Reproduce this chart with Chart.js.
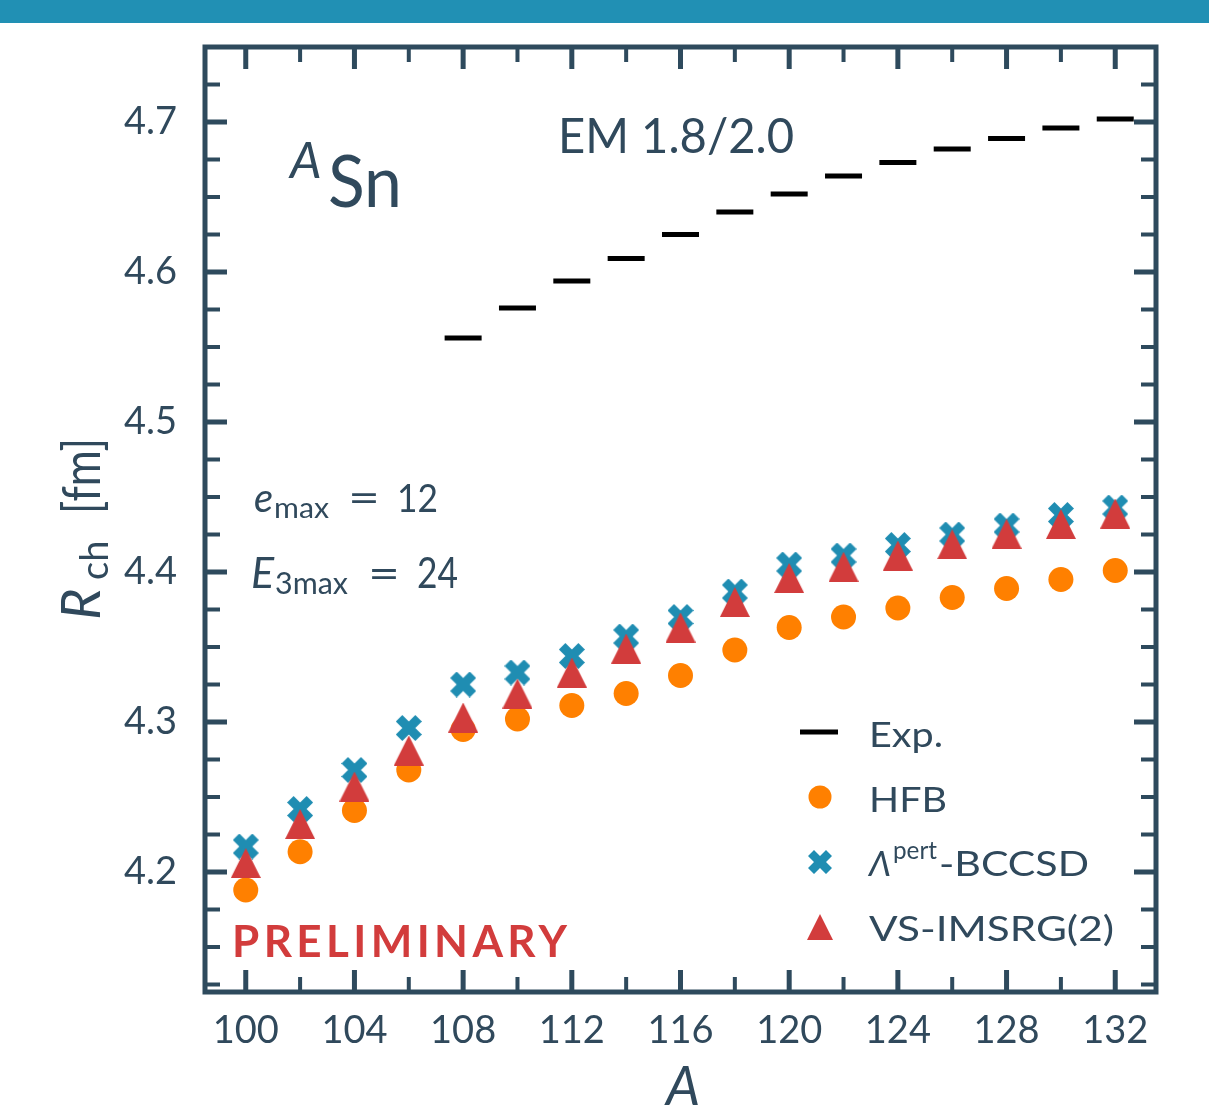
<!DOCTYPE html>
<html>
<head>
<meta charset="utf-8">
<title>Sn charge radii</title>
<script src="https://cdn.jsdelivr.net/npm/chart.js@4.4.0/dist/chart.umd.min.js"></script>
<style>
  html, body { margin: 0; padding: 0; background: #fff; }
  canvas { display: block; }
</style>
</head>
<body>
<canvas id="radiiChart" width="1209" height="1109"></canvas>
<script>
// === DATA ===
const massNumbers = [100, 102, 104, 106, 108, 110, 112, 114, 116, 118, 120, 122, 124, 126, 128, 130, 132];
const expMassNumbers = [108, 110, 112, 114, 116, 118, 120, 122, 124, 126, 128, 130, 132];

const expRadii = [4.556, 4.576, 4.594, 4.609, 4.625, 4.640, 4.652, 4.664, 4.673, 4.682, 4.689, 4.696, 4.702];
const hfbRadii = [4.188, 4.2135, 4.241, 4.268, 4.295, 4.302, 4.311, 4.319, 4.331, 4.348, 4.363, 4.370, 4.376, 4.383, 4.389, 4.395, 4.401];
const bccsdRadii = [4.217, 4.242, 4.268, 4.296, 4.325, 4.333, 4.344, 4.357, 4.370, 4.387, 4.405, 4.411, 4.418, 4.425, 4.431, 4.438, 4.443];
const imsrgRadii = [4.206, 4.232, 4.257, 4.281, 4.303, 4.319, 4.333, 4.349, 4.363, 4.380, 4.396, 4.4035, 4.411, 4.4185, 4.4255, 4.432, 4.439];

const xTickLabels = [100, 104, 108, 112, 116, 120, 124, 128, 132];
const xMinorTicks = [102, 106, 110, 114, 118, 122, 126, 130];
const yTickLabels = [4.2, 4.3, 4.4, 4.5, 4.6, 4.7];
const yMinorTicks = [4.125, 4.15, 4.175, 4.225, 4.25, 4.275, 4.325, 4.35, 4.375, 4.425, 4.45, 4.475,
                     4.525, 4.55, 4.575, 4.625, 4.65, 4.675, 4.725];

// === STYLE ===
const FONT = "Lato, 'Open Sans', sans-serif";
const TEXT = "#30495c";
const AXIS = "#2e4a5d";
const ORANGE = "#ff8000";
const BLUE = "#1f8db2";
const RED = "#d23c3c";

// matplotlib-like markers
function makeTriangle(size, color) {
  const c = document.createElement("canvas");
  c.width = size; c.height = size;
  const g = c.getContext("2d");
  g.fillStyle = color;
  g.beginPath();
  g.moveTo(size / 2, 0);
  g.lineTo(size, size);
  g.lineTo(0, size);
  g.closePath();
  g.fill();
  return c;
}

function makeCross(size, color) {
  const pts = [[0.25, 0], [0.5, 0.25], [0.75, 0], [1, 0.25], [0.75, 0.5], [1, 0.75],
               [0.75, 1], [0.5, 0.75], [0.25, 1], [0, 0.75], [0.25, 0.5], [0, 0.25]];
  const c = document.createElement("canvas");
  c.width = size; c.height = size;
  const g = c.getContext("2d");
  g.fillStyle = color;
  g.beginPath();
  pts.forEach((p, i) => {
    if (i === 0) g.moveTo(p[0] * size, p[1] * size);
    else g.lineTo(p[0] * size, p[1] * size);
  });
  g.closePath();
  g.fill();
  return c;
}

const triMarker = makeTriangle(30, RED);
const crossMarker = makeCross(26, BLUE);
const triLegend = makeTriangle(26, RED);
const crossLegend = makeCross(24, BLUE);

function toPoints(xs, ys) {
  return xs.map((x, i) => ({ x: x, y: ys[i] }));
}

// draws text pieces; optional w stretches a piece horizontally to that width
function drawRuns(ctx, runs) {
  runs.forEach(r => {
    ctx.font = r.font;
    ctx.fillStyle = r.color || TEXT;
    if (r.w) {
      const m = ctx.measureText(r.text).width;
      ctx.save();
      ctx.translate(r.x, r.y);
      ctx.scale(r.w / m, 1);
      ctx.fillText(r.text, 0, 0);
      ctx.restore();
    } else {
      ctx.fillText(r.text, r.x, r.y);
    }
  });
}

// === DECORATIONS: band, frame, inward ticks, labels, legend ===
const decorations = {
  id: "decorations",
  beforeDraw(chart) {
    const ctx = chart.ctx;
    ctx.save();
    ctx.fillStyle = "#2190b4";
    ctx.fillRect(0, 0, chart.width, 23);
    ctx.restore();
  },
  afterDatasetsDraw(chart) {
    const ctx = chart.ctx;
    const a = chart.chartArea;
    const xs = chart.scales.x, ys = chart.scales.y;
    ctx.save();
    ctx.strokeStyle = AXIS;
    ctx.lineCap = "butt";

    const tick = (len, width, list, horizontal) => {
      ctx.lineWidth = width;
      ctx.beginPath();
      list.forEach(v => {
        if (horizontal) {
          const px = xs.getPixelForValue(v);
          ctx.moveTo(px, a.bottom); ctx.lineTo(px, a.bottom - len);
          ctx.moveTo(px, a.top); ctx.lineTo(px, a.top + len);
        } else {
          const py = ys.getPixelForValue(v);
          ctx.moveTo(a.left, py); ctx.lineTo(a.left + len, py);
          ctx.moveTo(a.right, py); ctx.lineTo(a.right - len, py);
        }
      });
      ctx.stroke();
    };
    tick(15, 4, xMinorTicks, true);
    tick(22, 5, xTickLabels, true);
    tick(15, 4, yMinorTicks, false);
    tick(22, 5, yTickLabels, false);

    ctx.lineWidth = 5;
    ctx.strokeRect(a.left, a.top, a.right - a.left, a.bottom - a.top);
    ctx.restore();
  },
  afterDraw(chart) {
    const ctx = chart.ctx;
    ctx.save();
    ctx.textBaseline = "alphabetic";
    ctx.textAlign = "left";

    // nucleus label
    drawRuns(ctx, [
      { text: "A", x: 290, y: 178, font: `italic 50px ${FONT}` },
      { text: "Sn", x: 328, y: 207, font: `72px ${FONT}`, w: 74 }
    ]);
    // interaction
    drawRuns(ctx, [{ text: "EM 1.8/2.0", x: 558, y: 153, font: `48px ${FONT}`, w: 236 }]);
    // model space
    drawRuns(ctx, [
      { text: "e", x: 254, y: 512, font: `italic 40px ${FONT}` },
      { text: "max", x: 274, y: 518, font: `28px ${FONT}`, w: 55 },
      { text: "=", x: 348, y: 512, font: `40px ${FONT}`, w: 32 },
      { text: "12", x: 397, y: 512, font: `39px ${FONT}`, w: 41 },
      { text: "E", x: 251, y: 588, font: `italic 43px ${FONT}` },
      { text: "3max", x: 275, y: 594, font: `30px ${FONT}`, w: 73 },
      { text: "=", x: 368, y: 588, font: `43px ${FONT}`, w: 32 },
      { text: "24", x: 417, y: 588, font: `43px ${FONT}`, w: 41 }
    ]);

    // PRELIMINARY
    ctx.font = `bold 44px ${FONT}`;
    const word = "PRELIMINARY";
    const w0 = ctx.measureText(word).width;
    ctx.letterSpacing = ((335 - w0) / (word.length - 1)).toFixed(2) + "px";
    ctx.fillStyle = RED;
    ctx.fillText(word, 232, 957);
    ctx.letterSpacing = "0px";

    // axis titles
    ctx.textAlign = "center";
    ctx.font = `italic 54px ${FONT}`;
    ctx.fillStyle = TEXT;
    ctx.fillText("A", 683, 1105);
    ctx.textAlign = "left";

    ctx.save();
    ctx.translate(100, 620);
    ctx.rotate(-Math.PI / 2);
    drawRuns(ctx, [
      { text: "R", x: 0, y: 0, font: `italic 54px ${FONT}` },
      { text: "ch", x: 40, y: 8, font: `38px ${FONT}` },
      { text: "[fm]", x: 106, y: 0, font: `52px ${FONT}`, w: 76 }
    ]);
    ctx.restore();

    // legend
    ctx.strokeStyle = "#000";
    ctx.lineWidth = 5;
    ctx.beginPath();
    ctx.moveTo(800, 732); ctx.lineTo(838, 732);
    ctx.stroke();
    ctx.fillStyle = ORANGE;
    ctx.beginPath();
    ctx.arc(820, 797, 11.5, 0, Math.PI * 2);
    ctx.fill();
    ctx.drawImage(crossLegend, 820 - 12, 862 - 12);
    ctx.drawImage(triLegend, 820 - 13, 927 - 13);

    drawRuns(ctx, [
      { text: "Exp.", x: 869, y: 747, font: `35px ${FONT}`, w: 74 },
      { text: "HFB", x: 869, y: 812, font: `35px ${FONT}`, w: 78 },
      { text: "\u039B", x: 869, y: 876, font: `italic 35px ${FONT}`, w: 22 },
      { text: "pert", x: 893, y: 859, font: `25px ${FONT}`, w: 44 },
      { text: "-BCCSD", x: 939, y: 876, font: `35px ${FONT}`, w: 150 },
      { text: "VS-IMSRG(2)", x: 869, y: 941, font: `35px ${FONT}`, w: 245 }
    ]);
    ctx.restore();
  }
};

// === CHART ===
const ctx = document.getElementById("radiiChart").getContext("2d");
new Chart(ctx, {
  type: "scatter",
  data: {
    datasets: [
      {
        label: "Exp.",
        data: toPoints(expMassNumbers, expRadii),
        pointStyle: "line",
        pointRadius: 18.5,
        pointBorderWidth: 5,
        borderColor: "#000",
        backgroundColor: "#000",
        order: 0
      },
      {
        label: "HFB",
        data: toPoints(massNumbers, hfbRadii),
        pointStyle: "circle",
        pointRadius: 12.5,
        pointBorderWidth: 0,
        backgroundColor: ORANGE,
        borderColor: ORANGE,
        order: 3
      },
      {
        label: "\u039Bpert-BCCSD",
        data: toPoints(massNumbers, bccsdRadii),
        pointStyle: crossMarker,
        pointRadius: 13,
        backgroundColor: BLUE,
        borderColor: BLUE,
        order: 2
      },
      {
        label: "VS-IMSRG(2)",
        data: toPoints(massNumbers, imsrgRadii),
        pointStyle: triMarker,
        pointRadius: 15,
        backgroundColor: RED,
        borderColor: RED,
        order: 1
      }
    ]
  },
  options: {
    responsive: false,
    animation: false,
    devicePixelRatio: 1,
    layout: { padding: { top: 47, right: 53, left: 0, bottom: 0 } },
    plugins: {
      legend: { display: false },
      tooltip: { enabled: false }
    },
    scales: {
      x: {
        type: "linear",
        min: 98.5,
        max: 133.5,
        grid: { display: false },
        border: { display: false },
        afterBuildTicks: s => { s.ticks = xTickLabels.map(v => ({ value: v })); },
        afterFit: s => { s.height = 117; },
        ticks: {
          font: { family: FONT, size: 38 },
          color: TEXT,
          padding: 8,
          maxRotation: 0,
          autoSkip: false
        }
      },
      y: {
        type: "linear",
        min: 4.12,
        max: 4.75,
        grid: { display: false },
        border: { display: false },
        afterBuildTicks: s => { s.ticks = yTickLabels.map(v => ({ value: v })); },
        afterFit: s => { s.width = 205; },
        ticks: {
          font: { family: FONT, size: 38 },
          color: TEXT,
          padding: 20,
          autoSkip: false,
          callback: v => v.toFixed(1)
        }
      }
    }
  },
  plugins: [decorations]
});
</script>
</body>
</html>
